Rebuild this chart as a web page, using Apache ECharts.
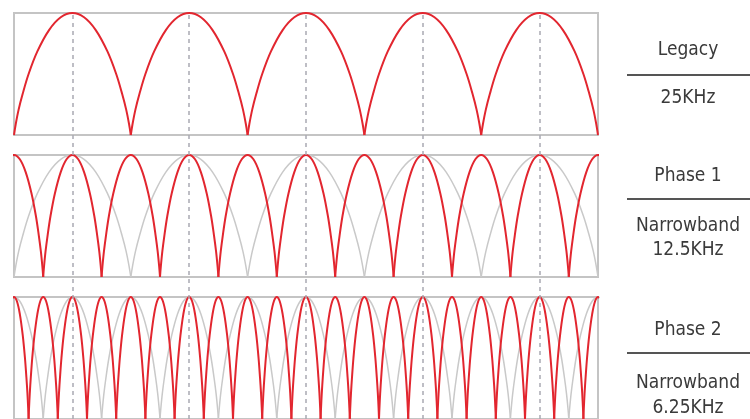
<!DOCTYPE html>
<html>
<head>
<meta charset="utf-8">
<script src="https://cdn.jsdelivr.net/npm/echarts@6/dist/echarts.min.js"></script>
<style>
  html, body { margin: 0; padding: 0; background: #fff; }
  #chart { width: 750px; height: 419px; }
</style>
</head>
<body>
<div id="chart"></div>
<script>
// span shown in each panel, in kHz (5 legacy channels)
var spanMin = 0;
var spanMax = 125;

// channel centres (kHz) for each plan
var legacyCenters = [12.5, 37.5, 62.5, 87.5, 112.5];
var phase1Centers = [0, 12.5, 25, 37.5, 50, 62.5, 75, 87.5, 100, 112.5, 125];
var phase2Centers = [0, 6.25, 12.5, 18.75, 25, 31.25, 37.5, 43.75, 50, 56.25, 62.5,
  68.75, 75, 81.25, 87.5, 93.75, 100, 106.25, 112.5, 118.75, 125];

// channel widths (kHz)
var legacyWidth = 25;
var phase1Width = 12.5;
var phase2Width = 6.25;

// half of one channel hump: [offset from centre (0..1), height (0..1)]
var arcProfile = [
  [0, 1], [0.2, 0.965], [0.4, 0.86], [0.6, 0.685], [0.75, 0.5],
  [0.85, 0.34], [0.92, 0.21], [0.97, 0.09], [1, 0]
];

// dashed guide lines sit on the legacy centres
var guideLines = legacyCenters;

// right hand captions
var captionTop = ['Legacy', 'Phase 1', 'Phase 2'];
var captionBottom = [['25KHz'], ['Narrowband', '12.5KHz'], ['Narrowband', '6.25KHz']];

var chart = echarts.init(document.getElementById('chart'));

var RED = '#e2262f';
var GREY = '#c9c9c9';

// one hump -> list of [x, y] points
function buildArc(center, width) {
  var pts = [];
  var half = width / 2;
  for (var i = arcProfile.length - 1; i > 0; i--) {
    pts.push([center - arcProfile[i][0] * half, arcProfile[i][1]]);
  }
  for (var j = 0; j < arcProfile.length; j++) {
    pts.push([center + arcProfile[j][0] * half, arcProfile[j][1]]);
  }
  return pts;
}

// panel layout (top of each box, px)
var panelTops = [13, 155, 297];
var panelHeight = 122;
var panels = [
  { grey: null, red: [legacyCenters, legacyWidth] },
  { grey: [legacyCenters, legacyWidth], red: [phase1Centers, phase1Width] },
  { grey: [phase1Centers, phase1Width], red: [phase2Centers, phase2Width] }
];

var grids = [], xAxes = [], yAxes = [], series = [];

panels.forEach(function (p, idx) {
  grids.push({
    left: 14, width: 584, top: panelTops[idx], height: panelHeight,
    show: true, borderColor: '#c4c4c4', borderWidth: 2, backgroundColor: 'transparent'
  });
  xAxes.push({ gridIndex: idx, type: 'value', min: spanMin, max: spanMax, show: false });
  yAxes.push({ gridIndex: idx, type: 'value', min: 0, max: 1, show: false });

  function addArcs(set, color, width, z) {
    set[0].forEach(function (c) {
      series.push({
        type: 'line', xAxisIndex: idx, yAxisIndex: idx,
        data: buildArc(c, set[1]),
        smooth: 0.35, symbol: 'none', silent: true, z: z,
        lineStyle: { color: color, width: width }
      });
    });
  }
  if (p.grey) addArcs(p.grey, GREY, 1.5, 3);
  addArcs(p.red, RED, 2, 4);
});

// overlay grid carrying the dashed guides through all panels
grids.push({ left: 14, width: 584, top: 13, bottom: 0 });
xAxes.push({ gridIndex: 3, type: 'value', min: spanMin, max: spanMax, show: false });
yAxes.push({ gridIndex: 3, type: 'value', min: 0, max: 1, show: false });
series.push({
  type: 'line', xAxisIndex: 3, yAxisIndex: 3, data: [[0, 0]],
  symbol: 'none', lineStyle: { opacity: 0 }, silent: true, z: 1,
  markLine: {
    silent: true, symbol: ['none', 'none'], label: { show: false },
    lineStyle: { type: [4, 4], color: '#a9a9b2', width: 1.5 },
    data: guideLines.map(function (v) { return { xAxis: v }; })
  }
});

// captions on the right
var FONT = '"Liberation Sans Narrow", "DejaVu Sans Condensed", "Roboto", sans-serif';
var capX = 688;
var topY = [50, 176, 330];
var ruleY = [75, 199, 353];
var bottomY = [[98], [226, 250], [383, 408]];
var graphics = [];
captionTop.forEach(function (t, i) {
  graphics.push({
    type: 'text', x: capX, y: topY[i],
    style: { text: t, fill: '#3a3a3a', font: '19px ' + FONT, textAlign: 'center', textVerticalAlign: 'middle' }
  });
  graphics.push({
    type: 'line', shape: { x1: 627, y1: ruleY[i], x2: 750, y2: ruleY[i] },
    style: { stroke: '#555', lineWidth: 2 }
  });
  captionBottom[i].forEach(function (b, k) {
    graphics.push({
      type: 'text', x: capX, y: bottomY[i][k],
      style: { text: b, fill: '#3a3a3a', font: '19px ' + FONT, textAlign: 'center', textVerticalAlign: 'middle' }
    });
  });
});

var option = {
  backgroundColor: '#fff',
  animation: false,
  grid: grids,
  xAxis: xAxes,
  yAxis: yAxes,
  series: series,
  graphic: graphics
};
chart.setOption(option);
</script>
</body>
</html>
